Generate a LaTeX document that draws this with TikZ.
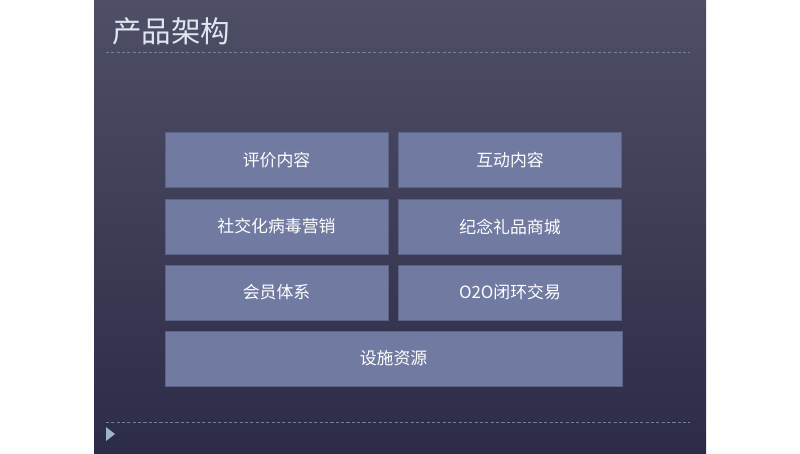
\documentclass[tikz,border=0pt]{standalone}
\usepackage{fontspec}
\setmainfont{Noto Sans CJK SC}
\usetikzlibrary{positioning}
\definecolor{slidetop}{HTML}{4F4E67}
\definecolor{slidebot}{HTML}{2C2C48}
\definecolor{boxfill}{HTML}{717AA0}
\definecolor{boxline}{HTML}{5B6488}
\definecolor{rulecol}{HTML}{7A7F9C}
\definecolor{titlecol}{HTML}{E0E6F0}
\definecolor{markcol}{HTML}{9DB4CF}
\tikzset{
  blockbox/.style={draw=boxline,line width=0.6pt,fill=boxfill,text=white,
    minimum width=5.575cm,minimum height=1.375cm,inner sep=0pt,
    font=\fontsize{12}{14}\selectfont},
  widebox/.style={blockbox,minimum width=11.425cm},
  sliderule/.style={rulecol,dashed,dash pattern=on 2.2pt off 1.6pt,line width=0.5pt}
}
\begin{document}
\begin{tikzpicture}[x=0.025cm,y=-0.025cm]
\useasboundingbox (0,0) rectangle (800,453);
\shade[top color=slidetop,bottom color=slidebot] (94,0) rectangle (706,453);

\node[text=titlecol,anchor=west,font=\fontsize{21}{24}\selectfont,inner sep=0pt](title) at (112,31) {产品架构};
\coordinate (tl) at (106,52);
\coordinate (tr) at (690,52);
\draw[sliderule] (tl) -- (tr);
\coordinate (bl) at (106,422);
\coordinate (br) at (690,422);
\draw[sliderule] (bl) -- (br);
\fill[markcol] (106,427) -- (115,434) -- (106,441) -- cycle;

\node[blockbox](pingjia) at (276.5,160) {评价内容};
\node[blockbox](hudong) at (510,160) {互动内容};
\node[blockbox](shejiao) at (276.5,226.5) {社交化病毒营销};
\node[blockbox](lipin) at (510,226.5) {纪念礼品商城};
\node[blockbox](huiyuan) at (276.5,292.5) {会员体系};
\node[blockbox](jiaoyi) at (510,292.5) {O2O闭环交易};
\node[widebox](sheshi) at (393.5,358.5) {设施资源};

\end{tikzpicture}
\end{document}
